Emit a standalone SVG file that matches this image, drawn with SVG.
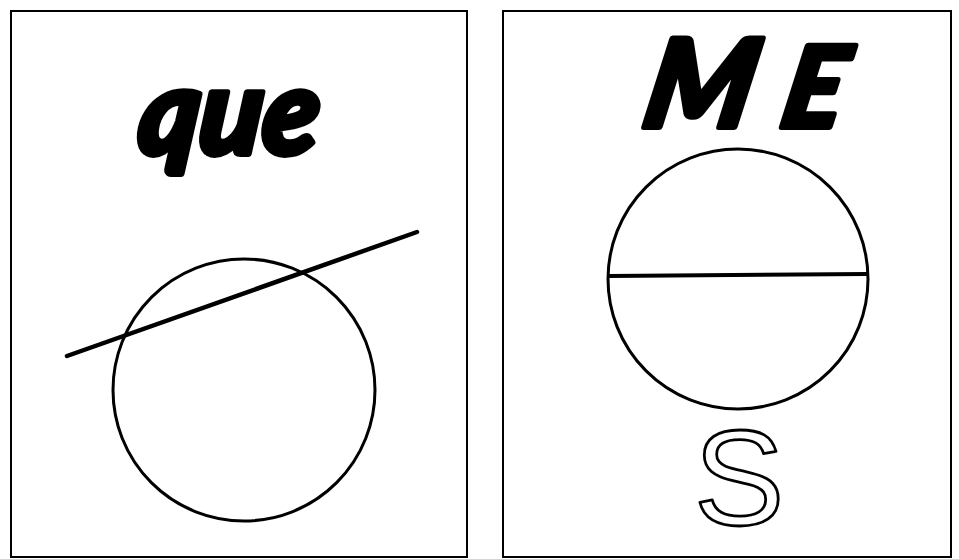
<svg xmlns="http://www.w3.org/2000/svg" width="959" height="559" viewBox="0 0 959 559">
  <style>
    .frame { fill: #ffffff; stroke: #000000; stroke-width: 2; }
    .ring { fill: none; stroke: #000000; stroke-width: 3; }
    .bar { stroke: #000000; stroke-width: 4.5; stroke-linecap: round; }
    .brush { font-family: "Lato", "DejaVu Sans", sans-serif; font-weight: 900; font-style: italic; fill: #000000; stroke: #000000; stroke-width: 6; stroke-linejoin: round; }
    .hollow { font-family: "Liberation Sans", Arial, sans-serif; font-weight: 400; fill: #ffffff; stroke: #000000; stroke-width: 2.8; stroke-linejoin: round; }
  </style>
  <rect x="0" y="0" width="959" height="559" fill="#ffffff"/>

  <g id="panel-left">
    <rect class="frame" x="11" y="11" width="456" height="546"/>
    <text class="brush" x="136" y="154" font-size="120" textLength="180" lengthAdjust="spacingAndGlyphs" transform="translate(0,154) skewX(-6) translate(0,-154)">que</text>
    <circle class="ring" cx="244" cy="390" r="131"/>
    <line class="bar" x1="67" y1="356" x2="417" y2="232"/>
  </g>

  <g id="panel-right">
    <rect class="frame" x="503" y="11" width="448" height="546"/>
    <text class="brush" y="127" font-size="122" transform="translate(0,127) skewX(-11) translate(0,-127)"><tspan x="640">M</tspan> <tspan x="778" font-size="112">E</tspan></text>
    <circle class="ring" cx="738" cy="279" r="130"/>
    <line class="bar" x1="609" y1="276" x2="867" y2="274" style="stroke-linecap: butt; stroke-width: 4;"/>
    <text class="hollow" x="739" y="525" font-size="136" text-anchor="middle">S</text>
  </g>
</svg>
